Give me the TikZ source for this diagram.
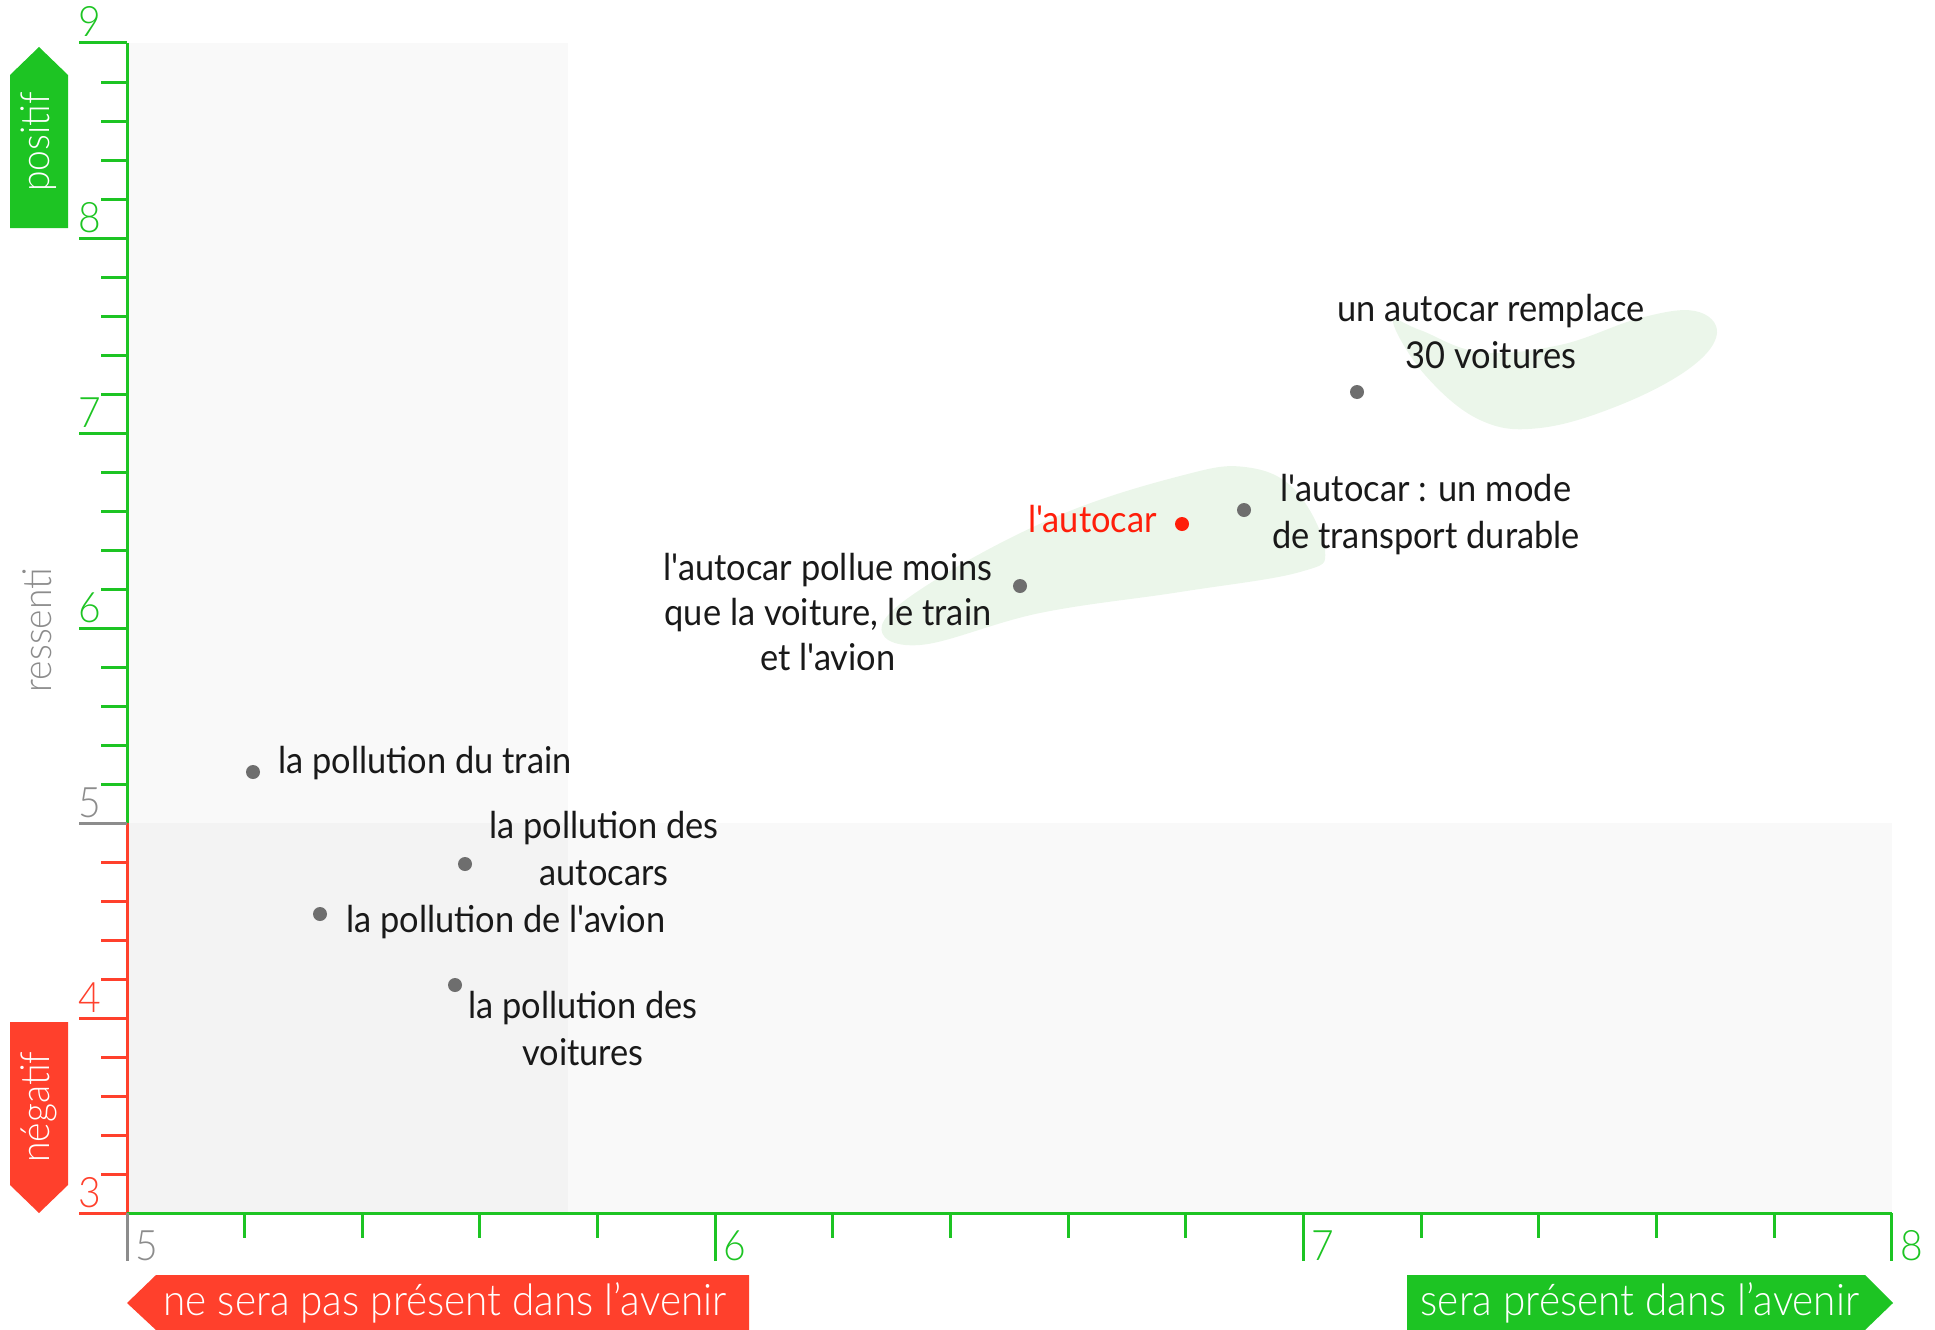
\documentclass[tikz,border=0pt]{standalone}
\usepackage{fontspec}
\newfontfamily\lato{Lato}[FakeStretch=0.93]
\newfontfamily\latolight{Lato Light}[FakeStretch=0.93]
\definecolor{axgreen}{RGB}{29,196,35}
\definecolor{axred}{RGB}{255,64,44}
\definecolor{axgray}{RGB}{140,140,140}
\definecolor{dotgray}{RGB}{110,110,110}
\definecolor{hotred}{RGB}{255,30,10}
\definecolor{blobgreen}{RGB}{235,246,234}
\definecolor{zonelight}{RGB}{249,249,249}
\definecolor{zonedark}{RGB}{243,243,243}
\tikzset{
  lbl/.style={font=\lato\fontsize{37}{47}\selectfont, inner sep=0pt, align=center, text=black!90},
  tagtext/.style={font=\latolight\fontsize{40}{48}\selectfont, inner sep=0pt, text=white},
  bandtext/.style={font=\latolight\fontsize{43.5}{50}\selectfont, inner sep=0pt, text=white},
  ticknum/.style={font=\latolight\fontsize{42}{48}\selectfont, inner sep=0pt},
  pt/.style={circle, fill=dotgray, inner sep=0pt, minimum size=14pt},
  axline/.style={line width=3pt},
}
\begin{document}
\begin{tikzpicture}[x=1pt, y=-1pt]
\useasboundingbox (0,0) rectangle (1935,1330);

% shaded zones
\fill[zonelight] (127,43) rectangle (568,823);
\fill[zonelight] (127,823) rectangle (1892,1213);
\fill[zonedark] (127,823) rectangle (568,1213);

% green clusters
\fill[blobgreen] plot[smooth cycle, tension=0.65] coordinates {
  (882,625) (940,577) (1060,515) (1180,476) (1245,467) (1295,490)
  (1325,550) (1300,572) (1180,592) (1040,613) (920,645)};
\fill[blobgreen] plot[smooth cycle, tension=0.65] coordinates {
  (1393,322) (1425,375) (1480,420) (1540,428) (1620,405) (1690,368)
  (1717,333) (1695,311) (1640,318) (1560,345) (1480,352) (1420,330)};

% vertical axis
\draw[axline, axgreen] (127,43) -- (127,823);
\draw[axline, axred] (127,823) -- (127,1213);
\foreach \v/\c in {9/axgreen,8/axgreen,7/axgreen,6/axgreen,5/axgray,4/axred,3/axred} {
  \pgfmathsetmacro{\yy}{1213-195*(\v-3)}
  \draw[axline, \c] (79,\yy) -- (127,\yy);
  \node[ticknum, text=\c, anchor=base west] at (78,\yy-6) {\v};
}
\foreach \k in {1,...,29} {
  \pgfmathsetmacro{\yy}{1213-39*\k}
  \pgfmathparse{mod(\k,5)==0 ? 0 : 1}
  \ifnum\pgfmathresult=1
    \ifnum\k<10
      \draw[axline, axred] (101,\yy) -- (127,\yy);
    \else
      \draw[axline, axgreen] (101,\yy) -- (127,\yy);
    \fi
  \fi
}

% horizontal axis
\draw[axline, axgreen] (127,1213) -- (1892,1213);
\draw[axline, axgray] (127,1213) -- (127,1261);
\node[ticknum, text=axgray, anchor=base west] at (135,1260) {5};
\foreach \u in {6,7,8} {
  \pgfmathsetmacro{\xx}{127+588.3*(\u-5)}
  \draw[axline, axgreen] (\xx,1213) -- (\xx,1261);
  \node[ticknum, text=axgreen, anchor=base west] at (\xx+8,1260) {\u};
}
\foreach \k in {1,...,14} {
  \pgfmathsetmacro{\xx}{127+117.66*\k}
  \pgfmathparse{mod(\k,5)==0 ? 0 : 1}
  \ifnum\pgfmathresult=1
    \draw[axline, axgreen] (\xx,1213) -- (\xx,1238);
  \fi
}

% direction tags
\fill[axgreen] (10,228) -- (10,75) -- (39,47) -- (68,75) -- (68,228) -- cycle;
\node[tagtext, rotate=90] (pos) at (39,142) {positif};
\fill[axred] (10,1022) -- (68,1022) -- (68,1185) -- (39,1213) -- (10,1185) -- cycle;
\node[tagtext, rotate=90] (neg) at (39,1107) {négatif};
\node[tagtext, text=axgray, rotate=90] (ress) at (37,630) {ressenti};

\fill[axred] (127,1303) -- (156,1275) -- (749,1275) -- (749,1330) -- (156,1330) -- cycle;
\node[bandtext, anchor=base] (absent) at (445,1315) {ne sera pas présent dans l’avenir};
\fill[axgreen] (1407,1275) -- (1865,1275) -- (1893,1303) -- (1865,1330) -- (1407,1330) -- cycle;
\node[bandtext, anchor=base] (present) at (1640,1315) {sera présent dans l’avenir};

% data points
\node[pt] (p1) at (253,772) {};
\node[pt] (p2) at (465,864) {};
\node[pt] (p3) at (320,914) {};
\node[pt] (p4) at (455,985) {};
\node[pt] (p5) at (1020,586) {};
\node[pt, fill=hotred] (p6) at (1182,524) {};
\node[pt] (p7) at (1244,510) {};
\node[pt] (p8) at (1357,392) {};

% labels (multi-line labels are placed by the baseline of their last line)
\node[lbl, anchor=base west] (t1) at (278,773) {la pollution du train};
\node[lbl, anchor=base] (t2) at (604,885) {la pollution des\\autocars};
\node[lbl, anchor=base west] (t3) at (346,932) {la pollution de l'avion};
\node[lbl, anchor=base] (t4) at (583,1065) {la pollution des\\voitures};
\node[lbl, anchor=base, font=\lato\fontsize{37}{45}\selectfont] (t5) at (828,670) {l'autocar pollue moins\\que la voiture, le train\\et l'avion};
\node[lbl, anchor=base east, text=hotred] (t6) at (1157,532) {l'autocar};
\node[lbl, anchor=base] (t7) at (1426,548) {l'autocar : un mode\\de transport durable};
\node[lbl, anchor=base] (t8) at (1491,368) {un autocar remplace\\30 voitures};
\end{tikzpicture}
\end{document}
